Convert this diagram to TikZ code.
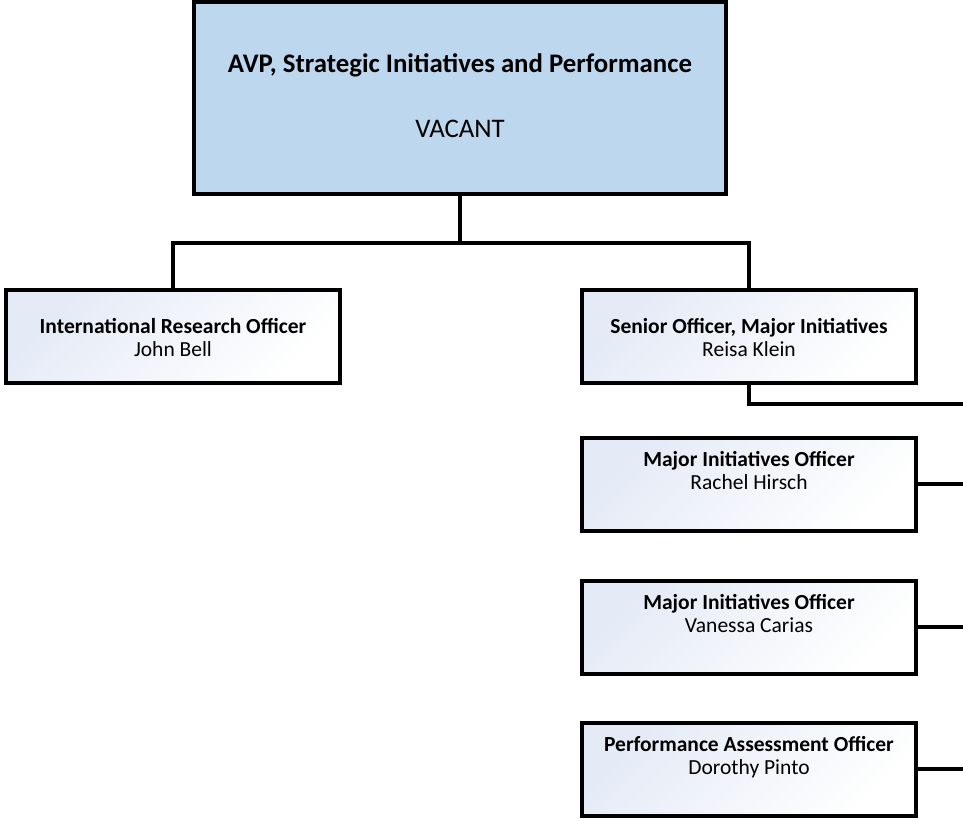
\documentclass[tikz,border=0pt]{standalone}
\usepackage{fontspec}
\setmainfont{Carlito}
\usetikzlibrary{positioning,shadows}
\definecolor{headblue}{RGB}{189,215,238}
\definecolor{paleblue}{RGB}{228,234,246}
\begin{document}
\begin{tikzpicture}[x=1pt, y=-1pt, line width=4pt]
  \tikzstyle{box} = [draw=black, line width=4pt, inner sep=0pt,
    drop shadow={opacity=0.12, shadow xshift=2pt, shadow yshift=-2pt}]
  \tikzstyle{head} = [box, fill=headblue, minimum width=532pt, minimum height=192pt]
  \tikzstyle{post} = [box, top color=paleblue, bottom color=white, shading angle=45,
    minimum width=334pt, minimum height=93pt]
  \tikzstyle{headtext} = [anchor=base, inner sep=0pt, font=\fontsize{26.8}{30}\selectfont]
  \tikzstyle{posttext} = [anchor=base, align=center, inner sep=0pt, font=\fontsize{21.5}{23.5}\selectfont]
  \useasboundingbox (0,0) rectangle (963,821);

  \node (avp) [head] at (460,98) {};
  \node (avp title) [headtext] at ([yshift=25pt]avp.center) {\textbf{AVP, Strategic Initiatives and Performance}};
  \node (avp holder) [headtext] at ([yshift=-39.5pt]avp.center) {VACANT};

  \node (jbell) [post] at (173,336) {};
  \node (jbell text) [posttext] at ([yshift=-20.5pt]jbell.center) {\textbf{International Research Officer}\\John Bell};
  \node (rklein) [post] at (749,336) {};
  \node (rklein text) [posttext] at ([yshift=-20.5pt]rklein.center) {\textbf{Senior Officer, Major Initiatives}\\Reisa Klein};

  \node (rhirsch) [post] at (749,484) {};
  \node (rhirsch text) [posttext] at ([yshift=-5.5pt]rhirsch.center) {\textbf{Major Initiatives Officer}\\Rachel Hirsch};
  \node (vcarias) [post] at (749,627) {};
  \node (vcarias text) [posttext] at ([yshift=-5.5pt]vcarias.center) {\textbf{Major Initiatives Officer}\\Vanessa Carias};
  \node (dpinto) [post] at (749,769) {};
  \node (dpinto text) [posttext] at ([yshift=-5.5pt]dpinto.center) {\textbf{Performance Assessment Officer}\\Dorothy Pinto};

  \coordinate (edge) at (963,404);
  \draw (avp.south) -- ++(0,47) -| (jbell.north);
  \draw (avp.south) -- ++(0,47) -| (rklein.north);
  \draw (rklein.south) |- (edge);
  \draw (rhirsch.east) -- (rhirsch.east -| edge);
  \draw (vcarias.east) -- (vcarias.east -| edge);
  \draw (dpinto.east) -- (dpinto.east -| edge);
\end{tikzpicture}
\end{document}
